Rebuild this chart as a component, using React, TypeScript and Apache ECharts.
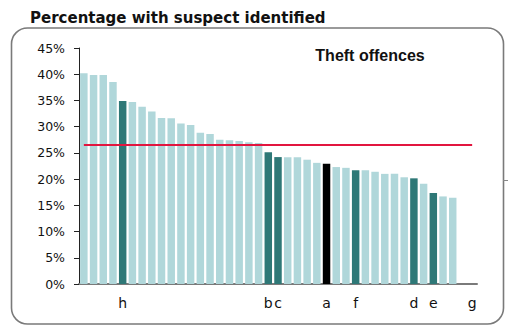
import React, { useEffect, useRef } from "react";
import * as echarts from "echarts";

// Area labels along the x axis (blank where an area is not named)
const areaLabels: string[] = [
  "", "", "", "", "h", "", "", "", "", "", "",
  "", "", "", "", "", "", "", "", "b", "c",
  "", "", "", "", "a", "", "", "f", "", "",
  "", "", "", "d", "", "e", "", "", "", "g",
];

// Percentage of theft offences with a suspect identified, per area
const suspectPct: (number | null)[] = [
  40.2, 39.85, 39.85, 38.5, 34.9, 34.7, 33.8, 32.9, 31.65, 31.6, 30.6,
  30.3, 28.85, 28.6, 27.5, 27.4, 27.25, 27.05, 26.9, 25.1, 24.2,
  24.15, 24.15, 23.7, 23.1, 22.95, 22.3, 22.15, 21.7, 21.7, 21.4,
  21.0, 21.0, 20.35, 20.15, 19.1, 17.35, 16.7, 16.45, null, null,
];

// Highlighted areas: "dark" for comparison areas, "focus" for the area of interest
const highlight: Record<number, "dark" | "focus"> = {
  4: "dark", 19: "dark", 20: "dark", 25: "focus", 28: "dark", 34: "dark", 36: "dark",
};

// Average across all areas
const averagePct = 26.6;

const yTicks = { min: 0, max: 45, interval: 5 };

const LIGHT = "#b0d7da";
const DARK = "#2e7877";
const FOCUS = "#000000";

export default function App() {
  const ref = useRef<HTMLDivElement>(null);

  useEffect(() => {
    if (!ref.current) return;
    const chart = echarts.init(ref.current, null, { renderer: "svg" });

    const barData = suspectPct.map((v, i) => ({
      value: v,
      itemStyle: {
        color: highlight[i] === "focus" ? FOCUS : highlight[i] === "dark" ? DARK : LIGHT,
      },
    }));

    chart.setOption({
      animation: false,
      backgroundColor: "#ffffff",
      graphic: [
        {
          type: "rect",
          z: -10,
          shape: { x: 11.5, y: 28, width: 492, height: 296, r: 16 },
          style: { fill: "none", stroke: "#7a7a7a", lineWidth: 1.6 },
        },
        {
          type: "line",
          shape: { x1: 503, y1: 180.5, x2: 508, y2: 180.5 },
          style: { stroke: "#888888", lineWidth: 1 },
        },
        {
          type: "text",
          x: 30,
          y: 17.5,
          style: {
            text: "Percentage with suspect identified",
            font: "bold 15px 'DejaVu Sans'",
            fill: "#111111",
            textVerticalAlign: "middle",
          },
        },
        {
          type: "text",
          x: 370,
          y: 55,
          style: {
            text: "Theft offences",
            font: "bold 16px 'Liberation Sans', Arial",
            fill: "#111111",
            textAlign: "center",
            textVerticalAlign: "middle",
          },
        },
      ],
      grid: { left: 79, right: 31, top: 48, bottom: 42 },
      xAxis: {
        type: "category",
        data: areaLabels,
        axisLine: { show: true, lineStyle: { color: "#7a7a7a", width: 2 } },
        axisTick: { show: false },
        axisLabel: {
          interval: 0,
          margin: 12,
          color: "#111111",
          fontFamily: "DejaVu Sans",
          fontSize: 14,
        },
      },
      yAxis: {
        type: "value",
        min: yTicks.min,
        max: yTicks.max,
        interval: yTicks.interval,
        splitLine: { show: false },
        axisLine: { show: true, lineStyle: { color: "#222222", width: 1 } },
        axisTick: { show: true, length: 5, lineStyle: { color: "#222222" } },
        axisLabel: {
          formatter: "{value}%",
          margin: 14,
          color: "#111111",
          fontFamily: "DejaVu Sans",
          fontSize: 12.5,
        },
      },
      series: [
        {
          type: "bar",
          data: barData,
          barCategoryGap: "23%",
          markLine: {
            symbol: "none",
            silent: true,
            label: { show: false },
            lineStyle: { color: "#e2153f", width: 2, type: "solid" },
            data: [
              [
                { coord: [0, averagePct] },
                { coord: [areaLabels.length - 1, averagePct] },
              ],
            ],
          },
        },
      ],
    });

    return () => chart.dispose();
  }, []);

  return <div ref={ref} style={{ width: 508, height: 326, position: "absolute", left: 0, top: 0 }} />;
}
